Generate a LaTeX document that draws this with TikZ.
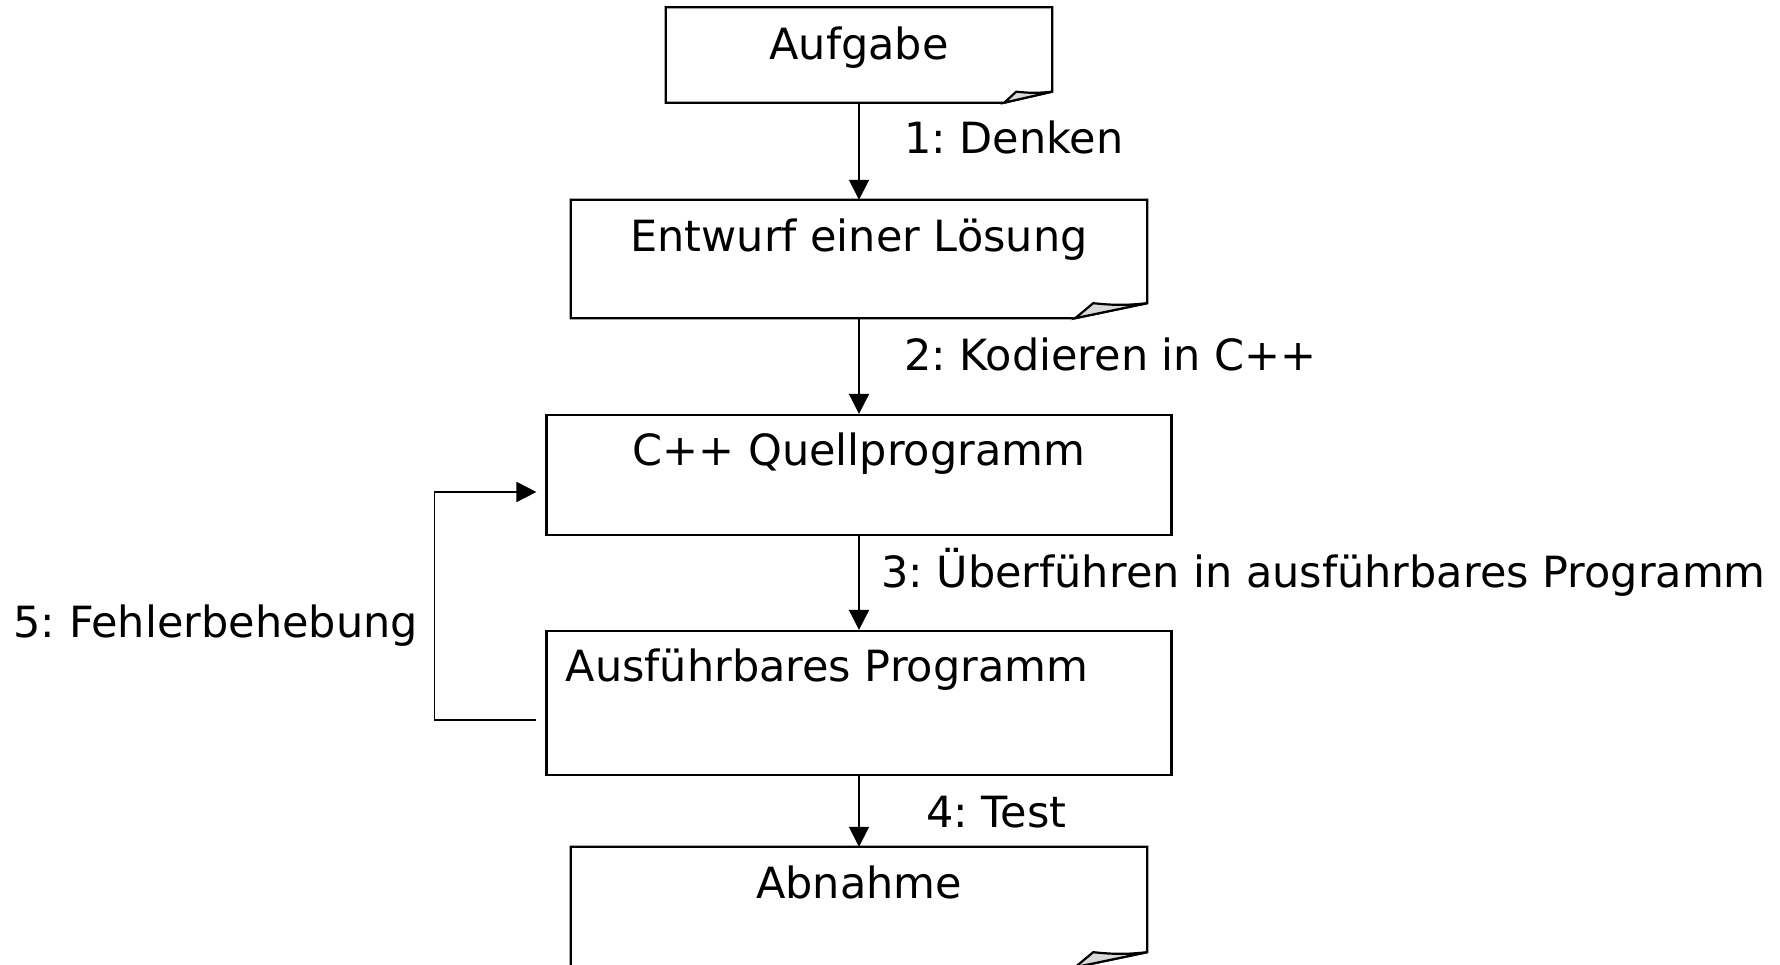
\documentclass[tikz,border=0pt]{standalone}
\usepackage{fontspec}
\setmainfont{DejaVu Sans}
\usetikzlibrary{arrows.meta}
\frenchspacing

% outline of a note with a curled lower right corner
\newcommand\dogear[3]{%
  \draw[edge] (#1.north west) -- (#1.north east) -- ([yshift=#3]#1.south east)
    -- ([xshift=-#2]#1.south east) -- (#1.south west) -- cycle;
  \filldraw[edge, fill=gray!30] ([xshift=-#2]#1.south east)
    -- ([xshift=-0.75*#2, yshift=#3]#1.south east)
    to[bend right=6] ([yshift=#3]#1.south east) -- cycle;}

\begin{document}
\begin{tikzpicture}[
        x=1pt, y=1pt, inner sep=0pt,
        font=\fontsize{43}{50}\selectfont,
        edge/.style={line width=2.2pt},
        box/.style={draw, line width=2.2pt},
        txt/.style={anchor=base, yshift=-52pt},
        arr/.style={-{Triangle[length=20pt,width=20pt]}, line width=1.8pt}
      ]
        \useasboundingbox (0,0) rectangle (1780,965);

        \node[minimum width=386, minimum height=95,
              label={[txt]north:Aufgabe}] (auf) at (859,910) {};
        \node[minimum width=576, minimum height=118,
              label={[txt]north:Entwurf einer Lösung}] (ent) at (859,706) {};
        \node[box, minimum width=625, minimum height=120,
              label={[txt]north:C++ Quellprogramm}] (quell) at (859,490) {};
        \node[box, minimum width=625, minimum height=144,
              label={[txt, anchor=base west, xshift=20pt]north west:Ausführbares Programm}]
          (ausf) at (859,262) {};
        \node[minimum width=576, minimum height=120,
              label={[txt]north:Abnahme}] (abn) at (859,58) {};

        \dogear{auf}{48pt}{11pt}
        \dogear{ent}{72pt}{15pt}
        \dogear{abn}{72pt}{15pt}

        \draw[arr] (auf) -- (ent);
        \draw[arr] (ent) -- (quell);
        \draw[arr] (quell) -- (ausf);
        \draw[arr] (ausf) -- (abn);
        \draw[arr] ([shift={(-9,-17)}]ausf.west) -- ++(-102,0)
          |- ([shift={(-9,-17)}]quell.west);

        \node[anchor=base west] (l1) at (904,811) {1: Denken};
        \node[anchor=base west] (l2) at (904,594) {2: Kodieren in C++};
        \node[anchor=base west] (l3) at (881,377) {3: Überführen in ausführbares Programm};
        \node[anchor=base west] (l4) at (926,137) {4: Test};
        \node[anchor=base east] (l5) at (418,327) {5: Fehlerbehebung};
      \end{tikzpicture}
\end{document}
